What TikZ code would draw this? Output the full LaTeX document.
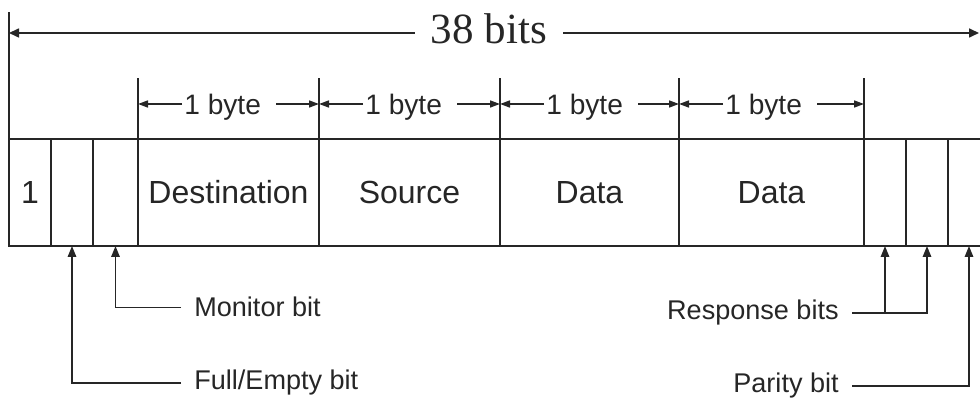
\documentclass[tikz,border=0pt]{standalone}
\usepackage{fontspec}
\setmainfont{Liberation Sans}
\newfontfamily\headfont{Liberation Serif}
\usetikzlibrary{arrows.meta, positioning}

\begin{document}
\begin{tikzpicture}[
        x=0.2mm, y=0.2mm,
        node distance=0pt,
        color=black!85,
        cell/.style={draw, line width=1.1pt, minimum width=#1*0.2mm, minimum height=21.4mm, inner sep=0pt, outer sep=0pt, font=\fontsize{18.2}{20}\selectfont},
        tick/.style={line width=0.6pt},
        span/.style={line width=0.9pt, -{Triangle[length=2mm, width=1.8mm]}},
        dim/.style={line width=0.9pt, -{Triangle[length=2mm, width=1.4mm]}},
        ptr/.style={line width=0.9pt, -{Triangle[length=2.2mm, width=1.7mm]}},
        title/.style={inner xsep=3.2mm, font=\headfont\fontsize{24.5}{28}\selectfont},
        bytelbl/.style={anchor=base west, inner sep=0.4mm, font=\fontsize{16}{18}\selectfont},
        callout/.style={inner xsep=2.6mm, inner ysep=0pt, font=\fontsize{15.4}{18}\selectfont}
    ]
        \useasboundingbox (0,0) rectangle (980,399);

        % the frame, field by field
        \node[cell=42, anchor=north west] (lead) at (9,260) {1};
        \node[cell=42, right=of lead] (full) {};
        \node[cell=45, right=of full] (mon) {};
        \node[cell=181, right=of mon] (dest) {Destination};
        \node[cell=181, right=of dest] (src) {Source};
        \node[cell=179, right=of src] (dataa) {Data};
        \node[cell=185, right=of dataa] (datab) {Data};
        \node[cell=42, right=of datab] (respa) {};
        \node[cell=42, right=of respa] (respb) {};
        \node[cell=42, right=of respb] (par) {};

        % total length
        \node[title] (total) at (489,370) {38 bits};
        \coordinate (lend) at (9,366);
        \coordinate (rend) at (979,366);
        \draw[tick, line width=0.9pt] (lead.north west) -- ++(0,127);
        \draw[span] (total.west |- lend) -- (lend);
        \draw[span] (total.east |- rend) -- (rend);

        % byte widths
        \foreach \c in {dest,src,dataa,datab,respa} {
            \coordinate (\c-t) at ([yshift=7mm]\c.north west);
            \draw[tick] (\c.north west) -- ++(0,61);
        }
        \foreach \c/\n in {dest/src, src/dataa, dataa/datab, datab/respa} {
            \node[bytelbl] (\c-len) at ([shift={(44,-11)}]\c-t) {1 byte};
            \draw[dim] (\c-len.west |- \c-t) -- (\c-t);
            \draw[dim] ([xshift=2.6mm]\c-len.east |- \c-t) -- (\n-t);
        }

        % control bits
        \node[callout, anchor=base west] (monlbl) at (181,82) {Monitor bit};
        \node[callout, anchor=base west] (fulllbl) at (181,9) {Full/Empty bit};
        \node[callout, anchor=base east] (resplbl) at (852,79) {Response bits};
        \node[callout, anchor=base east] (parlbl) at (852,6) {Parity bit};

        \draw[ptr] (monlbl.west) -| (mon.south);
        \draw[ptr] (fulllbl.west) -| (full.south);
        \draw[ptr] (resplbl.east) -| (respb.south);
        \draw[ptr] (respa.south |- resplbl.east) -- (respa.south);
        \draw[ptr] (parlbl.east) -| (par.south);
    \end{tikzpicture}
\end{document}
